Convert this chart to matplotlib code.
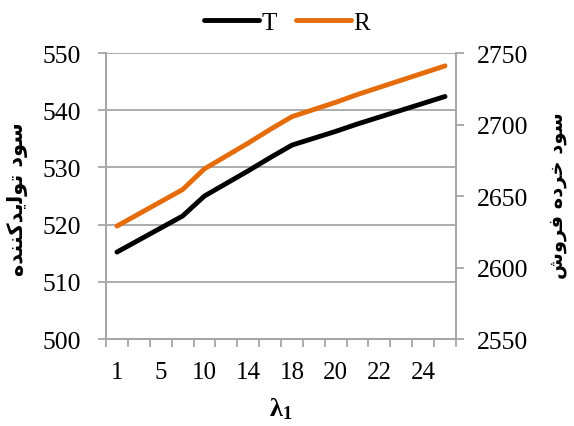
import numpy as np
import matplotlib
matplotlib.use('Agg')
import matplotlib.pyplot as plt
from matplotlib.lines import Line2D

plt.rcParams['font.family'] = ['Liberation Serif', 'DejaVu Sans']
plt.rcParams['mathtext.fontset'] = 'custom'
plt.rcParams['mathtext.rm'] = 'Liberation Serif'
plt.rcParams['mathtext.bf'] = 'Liberation Serif:bold'
plt.rcParams['mathtext.it'] = 'Liberation Serif:bold'

# lambda_1 values (only every other one is labelled on the axis)
lam = ['1', '3', '5', '8', '10', '12', '14', '16', '18', '19', '20', '21', '22', '23', '24', '25']

# manufacturer profit (left axis)
T = [515.2, 517.3, 519.4, 521.5, 525.0, 527.2, 529.4, 531.7,
     533.9, 535.1, 536.3, 537.6, 538.8, 540.0, 541.2, 542.4]

# retailer profit (right axis)
R = [2629.0, 2637.5, 2646.0, 2654.5, 2669.0, 2678.0, 2687.0, 2696.5,
     2705.5, 2710.5, 2715.5, 2721.0, 2726.0, 2731.0, 2736.0, 2741.0]

left_ticks = [500, 510, 520, 530, 540, 550]
right_ticks = [2550, 2600, 2650, 2700, 2750]

# persian titles, pre-shaped (presentation forms, visual order)
ylab_left = '\ufee9\ufeaa\ufee8\ufee8\ufb90\ufeaa\ufbfe\ufedf\ufeee\ufe97 \ufea9\ufeee\ufeb3'    # سود تولیدکننده
ylab_right = '\ufeb5\ufeed\ufeae\ufed3 \ufee9\ufea9\ufeae\ufea7 \ufea9\ufeee\ufeb3'             # سود خرده فروش

black = '#000000'
orange = '#E46C0A'
grid = '#A6A6A6'

fig = plt.figure(figsize=(5.74, 4.27), dpi=100)
ax = fig.add_axes([0.1847, 0.2037, 0.6097, 0.6698])
ax2 = ax.twinx()

x = np.arange(len(lam))
ax.plot(x, T, color=black, lw=3.5, solid_capstyle='round', zorder=3)
ax2.plot(x, R, color=orange, lw=3.5, solid_capstyle='round', zorder=3)

ax.set_xlim(-0.5, len(lam) - 0.5)
ax.set_ylim(500, 550)
ax2.set_ylim(2550, 2750)
ax.set_yticks(left_ticks)
ax2.set_yticks(right_ticks)

ax.set_xticks(x[::2])
ax.set_xticklabels(lam[::2])
ax.set_xticks(np.arange(-0.5, len(lam)), minor=True)
ax.tick_params(axis='x', which='major', length=0, pad=16, labelsize=18)
ax.tick_params(axis='x', which='minor', length=6, width=1.3, color=grid, direction='out')
ax.tick_params(axis='y', length=6, width=1.3, color=grid, labelsize=18.5, pad=12)
ax2.tick_params(axis='y', length=6, width=1.3, color=grid, labelsize=18.5, pad=9)

ax.yaxis.grid(True, color=grid, lw=1.3)
ax.set_axisbelow(True)
for a in (ax, ax2):
    for s in a.spines.values():
        s.set_color(grid)
        s.set_linewidth(1.3)
    a.spines['top'].set_visible(False)

ax.set_xlabel(r'$\mathbf{\lambda_1}$', fontsize=19, labelpad=9)

fig.text(0.031, 0.534, ylab_left, rotation=90, ha='center', va='center',
         fontsize=15, fontweight='bold', family=['DejaVu Sans'])
fig.text(0.972, 0.543, ylab_right, rotation=90, ha='center', va='center',
         fontsize=14, fontweight='bold', family=['DejaVu Sans'])

handles = [Line2D([], [], color=black, lw=3.5, solid_capstyle='round'),
           Line2D([], [], color=orange, lw=3.5, solid_capstyle='round')]
fig.legend(handles, ['T', 'R'], loc='center', bbox_to_anchor=(0.5, 0.945), ncol=2,
           frameon=False, fontsize=18, handlelength=2.2, handletextpad=0.1,
           columnspacing=0.75)

fig.savefig('out.png', dpi=100)
